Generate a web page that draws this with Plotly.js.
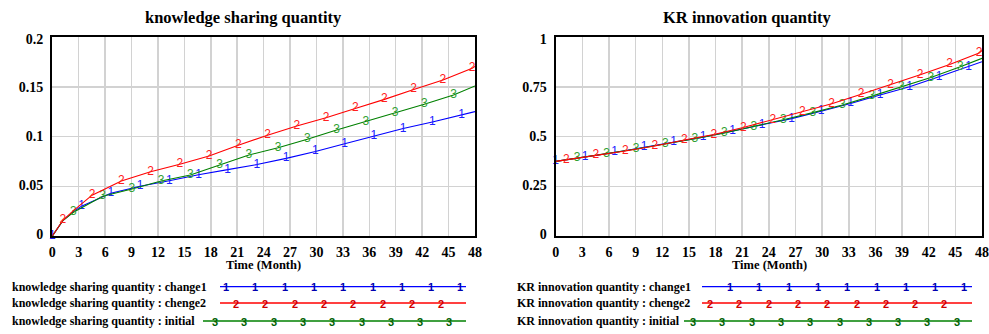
<!DOCTYPE html>
<html><head><meta charset="utf-8">
<script src="https://cdn.plot.ly/plotly-3.0.1.min.js"></script>
<style>html,body{margin:0;padding:0;background:#fff}#chart{width:989px;height:334px}</style>
</head><body><div id="chart"></div>
<script>
// ---------- DATA ----------
// Left chart: knowledge sharing quantity
const ksT1 = [0, 0.5, 1.2, 2.4, 3.32, 6.64, 9.96, 13.28, 16.6, 19.92, 23.24, 26.56, 29.88, 33.2, 36.52, 39.84, 43.16, 46.48, 48];
const ksV1 = [0, 0.007, 0.0155, 0.0245, 0.030, 0.043, 0.050, 0.0555, 0.0615, 0.0667, 0.0718, 0.078, 0.085, 0.0928, 0.1005, 0.108, 0.1146, 0.1215, 0.125];
const ksM1 = [1, 0, 0, 0, 1, 1, 1, 1, 1, 1, 1, 1, 1, 1, 1, 1, 1, 1, 0];

const ksT2 = [0, 0.5, 1.2, 2.4, 4.52, 7.84, 11.16, 14.48, 17.8, 21.12, 24.44, 27.76, 31.08, 34.4, 37.72, 41.04, 44.36, 47.68, 48];
const ksV2 = [0, 0.007, 0.0158, 0.0255, 0.041, 0.0553, 0.0645, 0.0722, 0.0803, 0.0913, 0.1013, 0.1105, 0.1188, 0.1282, 0.1373, 0.1473, 0.1567, 0.1685, 0.1705];
const ksM2 = [0, 0, 1, 0, 1, 1, 1, 1, 1, 1, 1, 1, 1, 1, 1, 1, 1, 1, 0];

const ksT3 = [0, 0.5, 1.2, 2.4, 5.72, 9.04, 12.36, 15.68, 19.0, 22.32, 25.64, 28.96, 32.28, 35.6, 38.92, 42.24, 45.56, 48];
const ksV3 = [0, 0.007, 0.0155, 0.0238, 0.040, 0.0472, 0.0553, 0.0613, 0.0714, 0.0814, 0.0887, 0.0972, 0.1065, 0.1149, 0.1239, 0.1324, 0.1417, 0.1508];
const ksM3 = [0, 0, 0, 1, 1, 1, 1, 1, 1, 1, 1, 1, 1, 1, 1, 1, 1, 0];

// Right chart: KR innovation quantity
const krT1 = [0, 3.32, 6.64, 9.96, 13.28, 16.6, 19.92, 23.24, 26.56, 29.88, 33.2, 36.52, 39.84, 43.16, 46.48, 48];
const krV1 = [0.375, 0.396, 0.42, 0.446, 0.472, 0.497, 0.528, 0.558, 0.59, 0.627, 0.666, 0.709, 0.75, 0.8, 0.85, 0.876];
const krM1 = [1, 1, 1, 1, 1, 1, 1, 1, 1, 1, 1, 1, 1, 1, 1, 0];

const krT2 = [0, 1.2, 4.52, 7.84, 11.16, 14.48, 17.8, 21.12, 24.44, 27.76, 31.08, 34.4, 37.72, 41.04, 44.36, 47.68, 48];
const krV2 = [0.375, 0.382, 0.405, 0.427, 0.452, 0.482, 0.51, 0.545, 0.584, 0.623, 0.665, 0.712, 0.76, 0.81, 0.862, 0.92, 0.932];
const krM2 = [0, 1, 1, 1, 1, 1, 1, 1, 1, 1, 1, 1, 1, 1, 1, 1, 0];

const krT3 = [0, 2.4, 5.72, 9.04, 12.36, 15.68, 19.0, 22.32, 25.64, 28.96, 32.28, 35.6, 38.92, 42.24, 45.56, 48];
const krV3 = [0.375, 0.39, 0.414, 0.437, 0.462, 0.489, 0.518, 0.55, 0.584, 0.62, 0.658, 0.703, 0.75, 0.796, 0.85, 0.893];
const krM3 = [0, 1, 1, 1, 1, 1, 1, 1, 1, 1, 1, 1, 1, 1, 1, 0];

const xTicks = [0, 3, 6, 9, 12, 15, 18, 21, 24, 27, 30, 33, 36, 39, 42, 45, 48];
const ksYTicks = [0, 0.05, 0.1, 0.15, 0.2];
const ksYLabels = ['0', '0.05', '0.1', '0.15', '0.2'];
const krYTicks = [0, 0.25, 0.5, 0.75, 1];
const krYLabels = ['0', '0.25', '0.5', '0.75', '1'];

const titles = ['knowledge sharing quantity', 'KR innovation quantity'];
const xTitle = 'Time (Month)';
const seriesMarks = ['1', '2', '3'];
const ksNames = ['knowledge sharing quantity : change1', 'knowledge sharing quantity : chenge2', 'knowledge sharing quantity : initial'];
const krNames = ['KR innovation quantity : change1', 'KR innovation quantity : chenge2', 'KR innovation quantity : initial'];

// ---------- STYLE ----------
const W = 989, H = 334;
const lineColors = ['#0000ff', '#ff0000', '#008000'];
const textColors = ['#2020ff', '#ff2020', '#30a030'];
const legMarkColors = ['#0000b0', '#d00000', '#006000'];
const serif = 'Liberation Serif';
const sans = 'Liberation Sans';
const px = x => x / W;
const py = y => 1 - y / H;

function seriesTrace(t, v, m, i, xa, ya) {
  return {
    x: t, y: v, xaxis: xa, yaxis: ya, type: 'scatter', mode: 'lines+text',
    line: {color: lineColors[i], width: 1.1},
    text: m.map(f => f ? seriesMarks[i] : ''),
    textposition: 'middle center',
    textfont: {family: sans, size: 12, color: textColors[i], weight: 'normal'},
    cliponaxis: false, showlegend: false, hoverinfo: 'skip'
  };
}

const traces = [
  seriesTrace(ksT1, ksV1, ksM1, 0, 'x', 'y'),
  seriesTrace(ksT3, ksV3, ksM3, 2, 'x', 'y'),
  seriesTrace(ksT2, ksV2, ksM2, 1, 'x', 'y'),
  seriesTrace(krT1, krV1, krM1, 0, 'x2', 'y2'),
  seriesTrace(krT3, krV3, krM3, 2, 'x2', 'y2'),
  seriesTrace(krT2, krV2, krM2, 1, 'x2', 'y2'),
  {x: [], y: [], xaxis: 'x', yaxis: 'y3', type: 'scatter', showlegend: false},
  {x: [], y: [], xaxis: 'x2', yaxis: 'y4', type: 'scatter', showlegend: false}
];

const yDom = [py(236), py(37)];
const tickFont = () => ({family: serif, size: 14, color: '#000', weight: 'bold'});

function xAxis(dom, anchor) {
  return {
    domain: dom, range: [0, 48], tickvals: xTicks, ticktext: xTicks.map(String), anchor: anchor,
    showgrid: true, gridcolor: '#d2d2d2', gridwidth: 1.5, zeroline: false,
    showline: true, mirror: true, linecolor: '#000', linewidth: 2,
    ticks: '', tickfont: tickFont(), ticklabelstandoff: 2, fixedrange: true
  };
}
function yAxisMain(range, ticks, anchor) {
  return {
    domain: yDom, range: range, tickvals: ticks, showticklabels: false, anchor: anchor,
    showgrid: true, gridcolor: '#d2d2d2', gridwidth: 1.5, zeroline: false,
    showline: true, mirror: true, linecolor: '#000', linewidth: 2, ticks: '', fixedrange: true
  };
}
function yAxisLabels(range, ticks, labels, over, anchor) {
  return {
    domain: yDom, range: range, tickvals: ticks, ticktext: labels, overlaying: over, anchor: anchor,
    side: 'left', showgrid: false, zeroline: false, showline: false, ticks: '',
    tickfont: tickFont(), ticklabelstandoff: 8, fixedrange: true
  };
}

const ksRange = [0, 0.2], krRange = [0, 1];
// label axes: Vensim draws the value labels slightly compressed inside the frame
const ksLabRange = [-0.00198, 0.20176];
const krLabRange = [-0.0099, 1.0088];

const annotations = [];
const shapes = [];
// titles
[[243, titles[0]], [747, titles[1]]].forEach(([cx, txt]) => {
  annotations.push({text: txt, x: px(cx), y: py(17), xref: 'paper', yref: 'paper',
    xanchor: 'center', yanchor: 'middle', showarrow: false,
    font: {family: serif, size: 16.5, color: '#000', weight: 'bold'}});
});
// x titles
[[263.7], [769]].forEach(([cx]) => {
  annotations.push({text: xTitle, x: px(cx), y: py(265), xref: 'paper', yref: 'paper',
    xanchor: 'center', yanchor: 'middle', showarrow: false,
    font: {family: serif, size: 12.5, color: '#000', weight: 'bold'}});
});
// legends
const legendRows = [286.7, 303, 321];
const legendDefs = [
  {names: ksNames, textX: 10, lineEnd: 466, starts: [220, 220, 203], first: [226, 236, 215], n: [9, 8, 9]},
  {names: krNames, textX: 515, lineEnd: 972, starts: [702, 702, 684], first: [730, 710, 693], n: [9, 9, 10]}
];
legendDefs.forEach(d => {
  d.names.forEach((nm, i) => {
    const yy = legendRows[i];
    annotations.push({text: nm, x: px(d.textX), y: py(yy), xref: 'paper', yref: 'paper',
      xanchor: 'left', yanchor: 'middle', showarrow: false,
      font: {family: serif, size: 12, color: '#000', weight: 'bold'}});
    shapes.push({type: 'line', xref: 'paper', yref: 'paper', x0: px(d.starts[i]), x1: px(d.lineEnd),
      y0: py(yy), y1: py(yy), line: {color: lineColors[i], width: 1.3}});
    for (let k = 0; k < d.n[i]; k++) {
      annotations.push({text: seriesMarks[i], x: px(d.first[i] + k * 29.3), y: py(yy + 0.5), xref: 'paper', yref: 'paper',
        xanchor: 'center', yanchor: 'middle', showarrow: false,
        font: {family: sans, size: 11, color: legMarkColors[i], weight: 'bold'}});
    }
  });
});

const layout = {
  width: W, height: H, margin: {l: 0, r: 0, t: 0, b: 0},
  font: {family: serif, size: 14, color: '#000', weight: 'bold'},
  paper_bgcolor: '#fff', plot_bgcolor: '#fff', showlegend: false,
  xaxis: xAxis([px(52.3), px(475)], 'y'),
  xaxis2: xAxis([px(555.7), px(982)], 'y2'),
  yaxis: yAxisMain(ksRange, ksYTicks, 'x'),
  yaxis2: yAxisMain(krRange, krYTicks, 'x2'),
  yaxis3: yAxisLabels(ksLabRange, ksYTicks, ksYLabels, 'y', 'x'),
  yaxis4: yAxisLabels(krLabRange, krYTicks, krYLabels, 'y2', 'x2'),
  annotations: annotations, shapes: shapes
};

Plotly.newPlot('chart', traces, layout, {displayModeBar: false, staticPlot: true});
</script></body></html>
